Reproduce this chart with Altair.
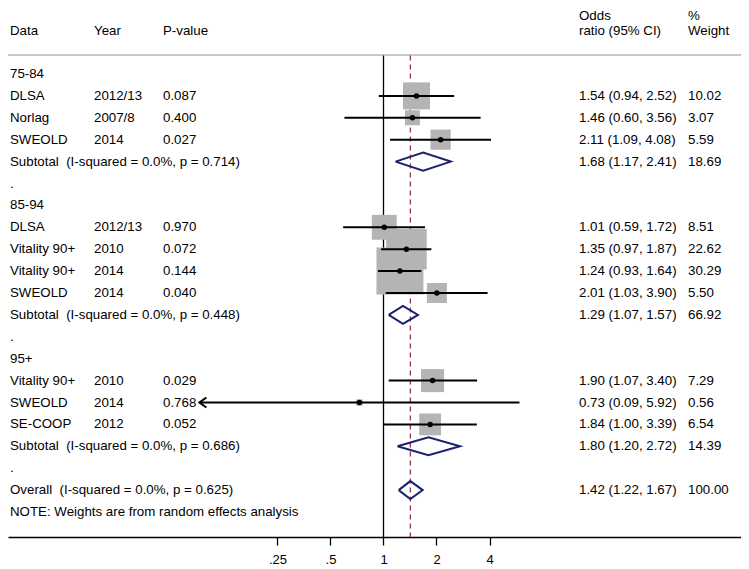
import altair as alt
import pandas as pd

# ---------------- data ----------------
group_labels = ["75-84", "85-94", "95+"]
group_rows = [0, 6, 13]

study_names = ["DLSA", "Norlag", "SWEOLD",
               "DLSA", "Vitality 90+", "Vitality 90+", "SWEOLD",
               "Vitality 90+", "SWEOLD", "SE-COOP"]
study_years = ["2012/13", "2007/8", "2014",
               "2012/13", "2010", "2014", "2014",
               "2010", "2014", "2012"]
study_pvals = ["0.087", "0.400", "0.027",
               "0.970", "0.072", "0.144", "0.040",
               "0.029", "0.768", "0.052"]
study_est = [1.54, 1.46, 2.11, 1.01, 1.35, 1.24, 2.01, 1.90, 0.73, 1.84]
study_lo = [0.94, 0.60, 1.09, 0.59, 0.97, 0.93, 1.03, 1.07, 0.09, 1.00]
study_hi = [2.52, 3.56, 4.08, 1.72, 1.87, 1.64, 3.90, 3.40, 5.92, 3.39]
study_weight = [10.02, 3.07, 5.59, 8.51, 22.62, 30.29, 5.50, 7.29, 0.56, 6.54]
study_rows = [1, 2, 3, 7, 8, 9, 10, 14, 15, 16]
study_arrow_left = [False, False, False, False, False, False, False, False, True, False]

pooled_labels = ["Subtotal\u00a0 (I-squared = 0.0%, p = 0.714)",
                 "Subtotal\u00a0 (I-squared = 0.0%, p = 0.448)",
                 "Subtotal\u00a0 (I-squared = 0.0%, p = 0.686)",
                 "Overall\u00a0 (I-squared = 0.0%, p = 0.625)"]
pooled_est = [1.68, 1.29, 1.80, 1.42]
pooled_lo = [1.17, 1.07, 1.20, 1.22]
pooled_hi = [2.41, 1.57, 2.72, 1.67]
pooled_weight = [18.69, 66.92, 14.39, 100.00]
pooled_rows = [4, 11, 17, 19]

spacer_rows = [5, 12, 18]
note_text = "NOTE: Weights are from random effects analysis"
note_row = 20

header_top = ["", "", "", "Odds", "%"]
header_bottom = ["Data", "Year", "P-value", "ratio (95% CI)", "Weight"]

tick_values = [0.25, 0.5, 1, 2, 4]
tick_labels = [".25", ".5", "1", "2", "4"]

# ---------------- layout / style ----------------
FONT = "Liberation Sans, Arial, Helvetica, sans-serif"
FS = 13.3
W, H = 733, 529
PAD_BOTTOM = 30
ROW0_Y = 74 - 8
ROW_H = 21.9
X_ONE = 383.5 - 8
PX_DOUBLING = 53.0
NAVY = "#1c2070"
MAROON = "#8e2a3a"
BOXGRAY = "#b4b4b4"
SEPGRAY = "#c8c8c8"

r_top = -ROW0_Y / ROW_H
r_bot = (H - ROW0_Y) / ROW_H
x_dom = [2 ** (-X_ONE / PX_DOUBLING), 2 ** ((W - X_ONE) / PX_DOUBLING)]
sep_r = (55 - 74) / ROW_H
line_top_r = (55.5 - 74) / ROW_H
hdr_top_r = (15.5 - 74) / ROW_H
hdr_bot_r = (30.5 - 74) / ROW_H

xscale = alt.Scale(type="log", base=2, domain=x_dom, nice=False)
yscale = alt.Scale(domain=[r_top, r_bot], reverse=True, nice=False, zero=False)

label_expr = " : ".join(
    f"datum.value == {v} ? '{l}'" for v, l in zip(tick_values, tick_labels)
) + " : datum.label"

xaxis = alt.Axis(values=tick_values, labelExpr=label_expr, title=None, grid=False,
                 domainColor="black", domainWidth=1.5, tickColor="black",
                 tickWidth=1.3, tickSize=8, labelPadding=8, labelFont=FONT,
                 labelFontSize=13, labelColor="black", labelFlush=False,
                 labelOverlap=False)

def X(field, **kw):
    return alt.X(field, scale=xscale, axis=xaxis, **kw)

def Y(field):
    return alt.Y(field, scale=yscale, axis=None)

# ---------------- tables ----------------
studies = pd.DataFrame({
    "row": study_rows, "est": study_est, "lo": study_lo, "hi": study_hi,
    "weight": study_weight, "arrow": study_arrow_left,
})

text_rows = []
text_rows.append({"row": hdr_top_r, "c0": header_top[0], "c1": header_top[1],
                  "c2": header_top[2], "c3": header_top[3], "c4": header_top[4]})
text_rows.append({"row": hdr_bot_r, "c0": header_bottom[0], "c1": header_bottom[1],
                  "c2": header_bottom[2], "c3": header_bottom[3], "c4": header_bottom[4]})
for g, r in zip(group_labels, group_rows):
    text_rows.append({"row": r, "c0": g, "c1": "", "c2": "", "c3": "", "c4": ""})
for i in range(len(study_names)):
    text_rows.append({
        "row": study_rows[i], "c0": study_names[i], "c1": study_years[i],
        "c2": study_pvals[i],
        "c3": f"{study_est[i]:.2f} ({study_lo[i]:.2f}, {study_hi[i]:.2f})",
        "c4": f"{study_weight[i]:.2f}",
    })
for i in range(len(pooled_labels)):
    text_rows.append({
        "row": pooled_rows[i], "c0": pooled_labels[i], "c1": "", "c2": "",
        "c3": f"{pooled_est[i]:.2f} ({pooled_lo[i]:.2f}, {pooled_hi[i]:.2f})",
        "c4": f"{pooled_weight[i]:.2f}",
    })
for r in spacer_rows:
    text_rows.append({"row": r, "c0": ".", "c1": "", "c2": "", "c3": "", "c4": ""})
text_rows.append({"row": note_row, "c0": note_text, "c1": "", "c2": "", "c3": "", "c4": ""})
texts = pd.DataFrame(text_rows)

DIAMOND_HALF = 0.41
dia = []
for i in range(len(pooled_est)):
    r = pooled_rows[i]
    pts = [(pooled_lo[i], r), (pooled_est[i], r - DIAMOND_HALF),
           (pooled_hi[i], r), (pooled_est[i], r + DIAMOND_HALF),
           (pooled_lo[i], r)]
    for k, (xv, yv) in enumerate(pts):
        dia.append({"id": i, "k": k, "x": xv, "y": yv})
dia = pd.DataFrame(dia)

refs = pd.DataFrame({"v": [1.0], "top": [line_top_r], "bot": [r_bot]})
overall = pd.DataFrame({"v": [pooled_est[-1]], "top": [line_top_r], "bot": [r_bot]})
sep = pd.DataFrame({"r": [sep_r]})

# ---------------- layers ----------------
sep_layer = alt.Chart(sep).mark_rule(color=SEPGRAY, strokeWidth=2).encode(
    y=Y("r:Q"), x=alt.value(0), x2=alt.value(W))

null_line = alt.Chart(refs).mark_rule(color="black", strokeWidth=1.3).encode(
    x=X("v:Q"), y=Y("top:Q"), y2="bot:Q")

overall_line = alt.Chart(overall).mark_rule(
    color=MAROON, strokeWidth=1.2, strokeDash=[5, 4]).encode(
    x=X("v:Q"), y=Y("top:Q"), y2="bot:Q")

boxes = alt.Chart(studies).mark_square(color=BOXGRAY, opacity=1).encode(
    x=X("est:Q"), y=Y("row:Q"),
    size=alt.Size("weight:Q", scale=alt.Scale(domain=[0, 30.29], range=[0, 72.8 * 30.29]),
                  legend=None))

ci = alt.Chart(studies).mark_rule(color="black", strokeWidth=2).encode(
    x=X("lo:Q"), x2="hi:Q", y=Y("row:Q"))

pts = alt.Chart(studies).mark_circle(color="black", size=30, opacity=1).encode(
    x=X("est:Q"), y=Y("row:Q"))

arrows = alt.Chart(studies).transform_filter("datum.arrow").mark_point(
    shape="M1.4,-1L0,0L1.4,1", filled=False, color="black", strokeWidth=2,
    size=100, opacity=1).encode(x=X("lo:Q"), y=Y("row:Q"))

diamonds = alt.Chart(dia).mark_line(color=NAVY, strokeWidth=2, strokeJoin="miter").encode(
    x=X("x:Q"), y=Y("y:Q"), detail="id:N", order="k:Q")

col_x = [2, 86, 155, 571, 680]
text_layers = []
for j, cx in enumerate(col_x):
    text_layers.append(
        alt.Chart(texts).mark_text(align="left", baseline="middle", font=FONT,
                                   fontSize=FS, color="black").encode(
            x=alt.value(cx), y=Y("row:Q"), text=f"c{j}:N"))

chart = alt.layer(sep_layer, null_line, overall_line, boxes, ci, pts, arrows,
                  diamonds, *text_layers).properties(
    width=W, height=H,
    padding={"left": 0, "top": 0, "right": 0, "bottom": PAD_BOTTOM},
    autosize=alt.AutoSizeParams(type="none"),
    background="white",
).configure_view(stroke=None)

chart.save("out.html", embed_options={"renderer": "svg", "actions": False})
